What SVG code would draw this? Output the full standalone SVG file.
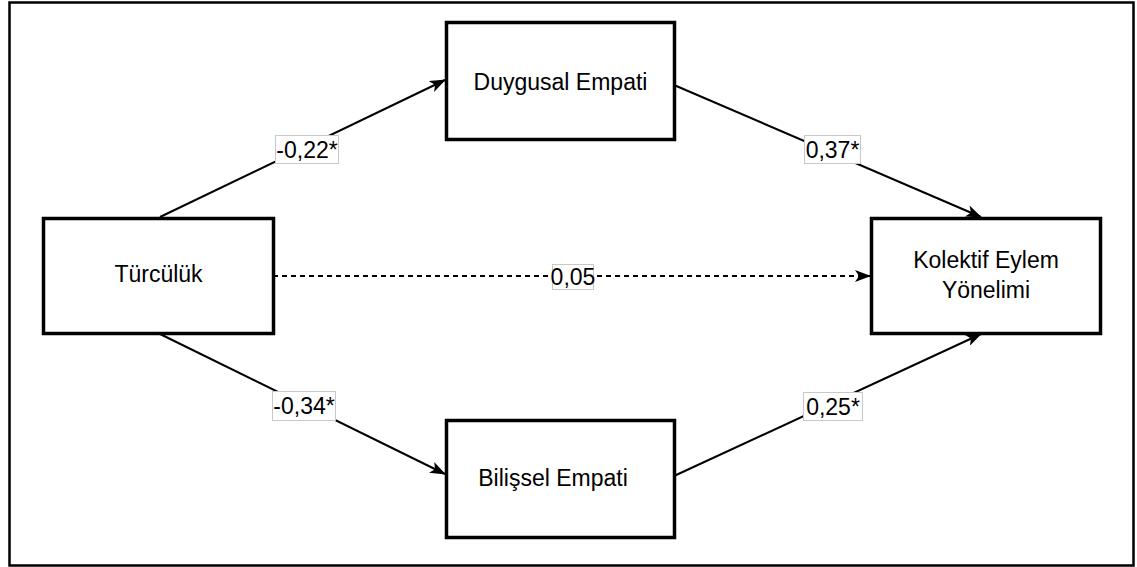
<svg xmlns="http://www.w3.org/2000/svg" width="1137" height="567" viewBox="0 0 1137 567">
<style>
.frame{fill:#fff;stroke:#000;stroke-width:2.5}
.box{fill:#fff;stroke:#000;stroke-width:3.5}
.t{font-family:"Liberation Sans",Arial,sans-serif;font-size:23px;fill:#000;text-anchor:middle}
.edge{fill:none;stroke:#000;stroke-width:2}
.dash{stroke-dasharray:5 4}
.lbl{fill:#fff;stroke:#c8c8c8;stroke-width:1}
</style>
<defs>
<marker id="arr" viewBox="0 0 16 12" refX="15" refY="6" markerWidth="16" markerHeight="12" markerUnits="userSpaceOnUse" orient="auto">
<path d="M0,0 L16,6 L0,12 L4,6 z" fill="#000"/>
</marker>
</defs>
<rect class="frame" x="9.5" y="2.5" width="1124" height="563"/>
<g id="connectors">
<line class="edge" x1="160" y1="217" x2="445" y2="80" marker-end="url(#arr)"/>
<line class="edge" x1="674" y1="85" x2="981" y2="217" marker-end="url(#arr)"/>
<line class="edge" x1="160" y1="334" x2="445" y2="474" marker-end="url(#arr)"/>
<line class="edge" x1="674" y1="476" x2="981" y2="334" marker-end="url(#arr)"/>
<line class="edge dash" x1="273" y1="276" x2="870" y2="276" marker-end="url(#arr)"/>
<g id="labels">
<rect class="lbl" x="275.5" y="135.5" width="63" height="28"/>
<text class="t" x="307" y="157.5">-0,22*</text>
<rect class="lbl" x="804.5" y="135.5" width="56" height="28"/>
<text class="t" x="832.5" y="157.5">0,37*</text>
<rect class="lbl" x="552.5" y="264.5" width="41" height="25"/>
<text class="t" x="573" y="285">0,05</text>
<rect class="lbl" x="272.5" y="391.5" width="63" height="29"/>
<text class="t" x="304" y="414">-0,34*</text>
<rect class="lbl" x="803.5" y="392.5" width="59" height="28"/>
<text class="t" x="833" y="414.5">0,25*</text>
</g>
</g>
<g id="turculuk">
<rect class="box" x="43.5" y="218.5" width="230" height="115"/>
<text class="t" x="158.5" y="282">Türcülük</text>
</g>
<g id="duygusal">
<rect class="box" x="446.5" y="22.5" width="228" height="117"/>
<text class="t" x="560.5" y="90">Duygusal Empati</text>
</g>
<g id="bilissel">
<rect class="box" x="446.5" y="420.5" width="228" height="117"/>
<text class="t" x="553" y="486">Bilişsel Empati</text>
</g>
<g id="kolektif">
<rect class="box" x="871.5" y="218.5" width="229" height="115"/>
<text class="t" x="986" y="268">Kolektif Eylem</text>
<text class="t" x="986" y="298">Yönelimi</text>
</g>
</svg>
